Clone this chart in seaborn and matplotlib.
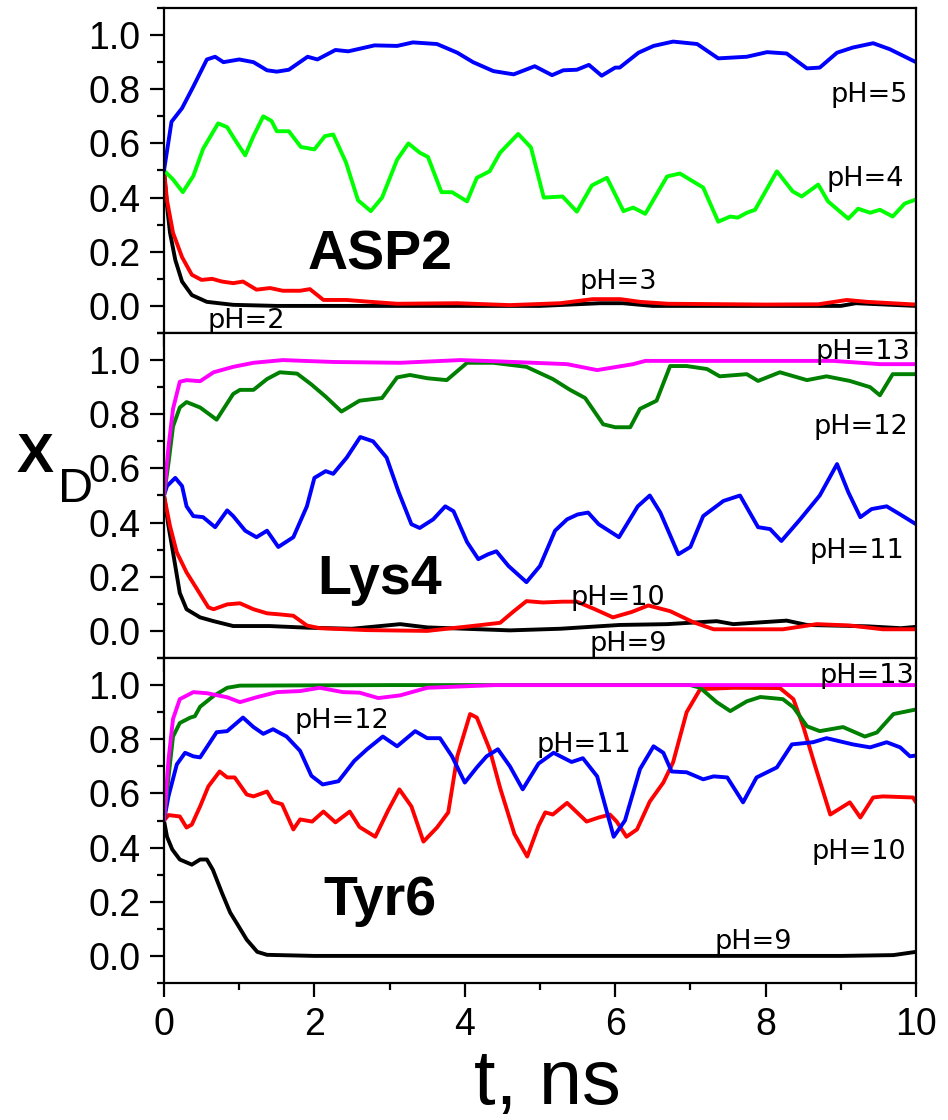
import matplotlib
matplotlib.use("Agg")
import matplotlib.pyplot as plt
import seaborn as sns
from matplotlib.ticker import MultipleLocator, FormatStrFormatter

# ---------------- data ----------------
# Panel 1: ASP2
asp_ph5_t = [0, 0.1, 0.24, 0.39, 0.57, 0.68, 0.79, 1.0, 1.19, 1.37, 1.5, 1.66, 1.91, 2.04, 2.28, 2.45, 2.8, 3.1, 3.31, 3.63, 3.9, 4.11, 4.38, 4.65, 4.93, 5.16, 5.31, 5.49, 5.65, 5.82, 6.0, 6.06, 6.31, 6.51, 6.77, 7.09, 7.37, 7.75, 8.02, 8.28, 8.55, 8.72, 8.95, 9.16, 9.43, 9.65, 10.0]
asp_ph5_y = [0.50, 0.68, 0.73, 0.81, 0.91, 0.92, 0.90, 0.91, 0.90, 0.87, 0.865, 0.872, 0.92, 0.91, 0.945, 0.94, 0.962, 0.96, 0.973, 0.967, 0.935, 0.90, 0.867, 0.855, 0.885, 0.852, 0.87, 0.872, 0.89, 0.85, 0.88, 0.88, 0.935, 0.96, 0.976, 0.967, 0.914, 0.92, 0.937, 0.932, 0.877, 0.88, 0.935, 0.954, 0.97, 0.948, 0.90]

asp_ph4_t = [0, 0.12, 0.25, 0.39, 0.52, 0.72, 0.84, 0.94, 1.08, 1.19, 1.32, 1.43, 1.5, 1.66, 1.82, 2.0, 2.14, 2.25, 2.42, 2.58, 2.75, 2.9, 3.1, 3.25, 3.4, 3.51, 3.69, 3.83, 4.03, 4.16, 4.33, 4.47, 4.71, 4.88, 5.05, 5.3, 5.49, 5.69, 5.89, 6.11, 6.24, 6.4, 6.69, 6.86, 7.17, 7.37, 7.53, 7.63, 7.75, 7.86, 8.15, 8.36, 8.48, 8.7, 8.83, 9.1, 9.23, 9.39, 9.52, 9.69, 9.85, 10.0]
asp_ph4_y = [0.50, 0.467, 0.42, 0.48, 0.58, 0.674, 0.66, 0.615, 0.556, 0.627, 0.70, 0.683, 0.645, 0.645, 0.587, 0.578, 0.627, 0.633, 0.53, 0.39, 0.35, 0.40, 0.54, 0.60, 0.566, 0.55, 0.42, 0.42, 0.386, 0.473, 0.497, 0.566, 0.635, 0.585, 0.40, 0.404, 0.348, 0.445, 0.473, 0.35, 0.363, 0.34, 0.478, 0.489, 0.437, 0.311, 0.33, 0.326, 0.344, 0.355, 0.497, 0.423, 0.404, 0.448, 0.386, 0.322, 0.359, 0.344, 0.355, 0.33, 0.378, 0.393]

asp_ph3_t = [0, 0.04, 0.12, 0.24, 0.37, 0.5, 0.64, 0.77, 0.92, 1.05, 1.23, 1.41, 1.58, 1.81, 1.94, 2.12, 2.43, 2.7, 3.1, 3.9, 4.6, 5.27, 5.7, 6.07, 6.33, 6.7, 8.0, 8.7, 9.08, 9.35, 10.0]
asp_ph3_y = [0.5, 0.39, 0.27, 0.18, 0.115, 0.096, 0.10, 0.09, 0.084, 0.09, 0.06, 0.066, 0.056, 0.056, 0.062, 0.022, 0.022, 0.016, 0.008, 0.01, 0.003, 0.01, 0.025, 0.025, 0.015, 0.008, 0.005, 0.006, 0.022, 0.015, 0.005]

asp_ph2_t = [0, 0.04, 0.08, 0.15, 0.24, 0.37, 0.57, 0.92, 1.5, 5.0, 5.8, 6.1, 6.5, 9.0, 9.2, 10.0]
asp_ph2_y = [0.5, 0.37, 0.27, 0.17, 0.09, 0.04, 0.015, 0.004, 0.0, 0.0, 0.01, 0.01, 0.0, 0.0, 0.01, 0.0]

# Panel 2: Lys4
lys_ph13_t = [0, 0.06, 0.12, 0.21, 0.3, 0.48, 0.66, 0.92, 1.19, 1.58, 2.25, 3.14, 3.94, 4.47, 4.91, 5.36, 5.76, 6.24, 6.4, 8.0, 8.9, 9.52, 10.0]
lys_ph13_y = [0.5, 0.68, 0.82, 0.92, 0.926, 0.922, 0.955, 0.975, 0.99, 1.0, 0.993, 0.99, 1.0, 0.995, 0.99, 0.985, 0.963, 0.985, 0.997, 0.997, 0.997, 0.985, 0.985]

lys_ph12_t = [0, 0.06, 0.12, 0.21, 0.3, 0.48, 0.7, 0.92, 1.01, 1.19, 1.37, 1.54, 1.77, 1.96, 2.15, 2.36, 2.6, 2.9, 3.1, 3.27, 3.5, 3.76, 4.03, 4.38, 4.82, 5.17, 5.4, 5.6, 5.84, 6.0, 6.2, 6.33, 6.55, 6.73, 6.95, 7.22, 7.39, 7.75, 7.9, 8.19, 8.55, 8.81, 9.12, 9.39, 9.52, 9.69, 10.0]
lys_ph12_y = [0.5, 0.62, 0.755, 0.825, 0.845, 0.825, 0.78, 0.875, 0.89, 0.89, 0.93, 0.955, 0.95, 0.91, 0.865, 0.81, 0.85, 0.86, 0.936, 0.945, 0.933, 0.926, 0.99, 0.99, 0.975, 0.93, 0.89, 0.86, 0.763, 0.752, 0.752, 0.82, 0.85, 0.978, 0.978, 0.967, 0.94, 0.948, 0.923, 0.955, 0.926, 0.94, 0.923, 0.90, 0.87, 0.948, 0.948]

lys_ph11_t = [0, 0.04, 0.15, 0.24, 0.3, 0.39, 0.52, 0.68, 0.84, 0.92, 1.08, 1.23, 1.37, 1.52, 1.72, 1.9, 2.0, 2.15, 2.25, 2.43, 2.61, 2.78, 2.96, 3.12, 3.29, 3.4, 3.58, 3.74, 3.85, 4.03, 4.18, 4.31, 4.42, 4.58, 4.82, 5.0, 5.2, 5.36, 5.5, 5.64, 5.78, 6.05, 6.3, 6.46, 6.6, 6.84, 7.0, 7.17, 7.44, 7.66, 7.9, 8.06, 8.21, 8.46, 8.72, 8.95, 9.1, 9.26, 9.41, 9.61, 9.79, 10.0]
lys_ph11_y = [0.5, 0.535, 0.565, 0.535, 0.46, 0.424, 0.42, 0.383, 0.445, 0.424, 0.37, 0.346, 0.37, 0.31, 0.346, 0.46, 0.565, 0.59, 0.58, 0.64, 0.716, 0.70, 0.64, 0.513, 0.394, 0.38, 0.412, 0.46, 0.442, 0.328, 0.265, 0.283, 0.294, 0.24, 0.18, 0.24, 0.37, 0.412, 0.43, 0.437, 0.394, 0.346, 0.46, 0.5, 0.437, 0.283, 0.31, 0.424, 0.48, 0.5, 0.383, 0.376, 0.332, 0.412, 0.5, 0.616, 0.512, 0.42, 0.45, 0.46, 0.43, 0.394]

lys_ph10_t = [0, 0.08, 0.17, 0.3, 0.44, 0.59, 0.66, 0.84, 1.01, 1.19, 1.37, 1.54, 1.72, 1.9, 2.07, 2.7, 3.5, 4.16, 4.47, 4.64, 4.82, 5.04, 5.3, 5.49, 5.73, 5.97, 6.22, 6.44, 6.73, 7.04, 7.31, 8.23, 8.68, 9.12, 9.56, 10.0]
lys_ph10_y = [0.5, 0.387, 0.29, 0.216, 0.154, 0.087, 0.08, 0.098, 0.102, 0.08, 0.065, 0.061, 0.056, 0.02, 0.01, 0.003, 0.0, 0.02, 0.03, 0.07, 0.11, 0.105, 0.108, 0.108, 0.08, 0.05, 0.07, 0.094, 0.073, 0.032, 0.006, 0.006, 0.025, 0.02, 0.006, 0.006]

lys_ph9_t = [0, 0.06, 0.12, 0.21, 0.3, 0.48, 0.66, 0.92, 1.4, 1.9, 2.5, 3.14, 3.5, 4.6, 5.27, 6.06, 6.69, 7.35, 7.57, 8.28, 8.55, 9.35, 9.8, 10.0]
lys_ph9_y = [0.5, 0.387, 0.29, 0.14, 0.08, 0.05, 0.036, 0.018, 0.018, 0.012, 0.008, 0.025, 0.013, 0.002, 0.008, 0.022, 0.025, 0.036, 0.025, 0.038, 0.022, 0.017, 0.01, 0.015]

# Panel 3: Tyr6
tyr_ph13_t = [0, 0.06, 0.12, 0.21, 0.39, 0.57, 0.84, 1.01, 1.23, 1.5, 1.81, 2.07, 2.38, 2.6, 2.85, 3.14, 3.5, 4.4, 10.0]
tyr_ph13_y = [0.5, 0.725, 0.875, 0.948, 0.974, 0.97, 0.955, 0.937, 0.955, 0.974, 0.978, 0.99, 0.974, 0.972, 0.952, 0.962, 0.99, 1.0, 1.0]

tyr_ph12_t = [0, 0.06, 0.12, 0.21, 0.35, 0.41, 0.48, 0.66, 0.84, 1.01, 3.0, 5.0, 7.0, 7.13, 7.35, 7.53, 7.75, 7.93, 8.23, 8.37, 8.55, 8.72, 9.03, 9.32, 9.48, 9.7, 10.0]
tyr_ph12_y = [0.5, 0.66, 0.81, 0.86, 0.88, 0.885, 0.92, 0.96, 0.99, 0.998, 1.0, 1.0, 1.0, 0.99, 0.937, 0.904, 0.94, 0.956, 0.948, 0.918, 0.848, 0.83, 0.845, 0.81, 0.825, 0.893, 0.91]

tyr_ph11_t = [0, 0.06, 0.17, 0.28, 0.39, 0.48, 0.7, 0.84, 1.05, 1.19, 1.32, 1.45, 1.63, 1.81, 1.96, 2.11, 2.32, 2.53, 2.7, 2.91, 3.1, 3.34, 3.5, 3.67, 3.83, 4.0, 4.16, 4.29, 4.44, 4.6, 4.77, 4.98, 5.18, 5.42, 5.57, 5.76, 5.98, 6.13, 6.33, 6.51, 6.64, 6.75, 6.95, 7.17, 7.31, 7.49, 7.7, 7.88, 8.15, 8.35, 8.63, 8.81, 9.16, 9.39, 9.61, 9.79, 9.92, 10.0]
tyr_ph11_y = [0.5, 0.59, 0.707, 0.75, 0.737, 0.733, 0.826, 0.83, 0.88, 0.845, 0.82, 0.837, 0.81, 0.757, 0.665, 0.633, 0.645, 0.72, 0.763, 0.81, 0.774, 0.83, 0.804, 0.804, 0.737, 0.64, 0.696, 0.737, 0.763, 0.70, 0.615, 0.71, 0.75, 0.716, 0.73, 0.663, 0.44, 0.5, 0.69, 0.774, 0.75, 0.681, 0.678, 0.652, 0.663, 0.659, 0.567, 0.659, 0.696, 0.781, 0.789, 0.804, 0.781, 0.77, 0.789, 0.77, 0.737, 0.74]

tyr_ph10_t = [0, 0.06, 0.21, 0.3, 0.37, 0.48, 0.59, 0.74, 0.84, 0.94, 1.1, 1.19, 1.37, 1.45, 1.57, 1.72, 1.81, 1.97, 2.12, 2.28, 2.47, 2.6, 2.81, 2.98, 3.13, 3.29, 3.45, 3.63, 3.78, 3.9, 4.07, 4.16, 4.33, 4.47, 4.66, 4.83, 4.98, 5.07, 5.17, 5.36, 5.62, 5.78, 5.93, 6.02, 6.15, 6.29, 6.46, 6.64, 6.77, 6.95, 7.13, 7.57, 8.19, 8.37, 8.5, 8.66, 8.86, 9.12, 9.26, 9.43, 9.56, 9.96, 10.0]
tyr_ph10_y = [0.5, 0.52, 0.515, 0.474, 0.485, 0.552, 0.626, 0.681, 0.659, 0.659, 0.596, 0.589, 0.607, 0.57, 0.56, 0.467, 0.504, 0.496, 0.533, 0.493, 0.533, 0.476, 0.44, 0.537, 0.615, 0.552, 0.422, 0.474, 0.53, 0.737, 0.893, 0.88, 0.763, 0.62, 0.45, 0.367, 0.48, 0.53, 0.522, 0.565, 0.496, 0.511, 0.522, 0.496, 0.44, 0.467, 0.57, 0.64, 0.715, 0.9, 0.985, 0.99, 0.989, 0.948, 0.848, 0.7, 0.522, 0.567, 0.511, 0.585, 0.589, 0.585, 0.567]

tyr_ph9_t = [0, 0.04, 0.11, 0.21, 0.37, 0.48, 0.57, 0.65, 0.77, 0.88, 0.98, 1.1, 1.24, 1.37, 2.0, 9.0, 9.7, 10.0]
tyr_ph9_y = [0.5, 0.44, 0.393, 0.356, 0.337, 0.356, 0.356, 0.318, 0.233, 0.16, 0.115, 0.06, 0.015, 0.004, 0.0, 0.0, 0.003, 0.015]

panel_names = ["ASP2", "Lys4", "Tyr6"]
y_ticks = [0.0, 0.2, 0.4, 0.6, 0.8, 1.0]
x_ticks = [0, 2, 4, 6, 8, 10]

BLUE, LIME, RED, BLACK, MAG, DGREEN = "#0000ff", "#00ff00", "#ff0000", "#000000", "#ff00ff", "#008000"

panels = [
    [(asp_ph2_t, asp_ph2_y, BLACK), (asp_ph3_t, asp_ph3_y, RED),
     (asp_ph4_t, asp_ph4_y, LIME), (asp_ph5_t, asp_ph5_y, BLUE)],
    [(lys_ph9_t, lys_ph9_y, BLACK), (lys_ph10_t, lys_ph10_y, RED),
     (lys_ph11_t, lys_ph11_y, BLUE), (lys_ph12_t, lys_ph12_y, DGREEN),
     (lys_ph13_t, lys_ph13_y, MAG)],
    [(tyr_ph9_t, tyr_ph9_y, BLACK), (tyr_ph10_t, tyr_ph10_y, RED),
     (tyr_ph11_t, tyr_ph11_y, BLUE), (tyr_ph12_t, tyr_ph12_y, DGREEN),
     (tyr_ph13_t, tyr_ph13_y, MAG)],
]

# label text, x, y (data coords)
ph_labels = [
    [("pH=5", 9.38, 0.78), ("pH=4", 9.32, 0.467), ("pH=3", 6.04, 0.09), ("pH=2", 1.10, -0.055)],
    [("pH=13", 9.30, 1.03), ("pH=12", 9.27, 0.752), ("pH=11", 9.21, 0.294),
     ("pH=10", 6.04, 0.12), ("pH=9", 6.18, -0.05)],
    [("pH=13", 9.35, 1.033), ("pH=12", 2.37, 0.867), ("pH=11", 5.59, 0.778),
     ("pH=10", 9.24, 0.385), ("pH=9", 7.83, 0.052)],
]
name_pos = [(2.87, 0.133), (2.87, 0.136), (2.87, 0.152)]

# ---------------- plotting ----------------
sns.set_theme(style="ticks")
plt.rcParams['font.family'] = ['Liberation Sans', 'DejaVu Sans']
plt.rcParams['text.color'] = 'black'
plt.rcParams['axes.labelcolor'] = 'black'
plt.rcParams['xtick.color'] = 'black'
plt.rcParams['ytick.color'] = 'black'

fig = plt.figure(figsize=(9.48, 11.2), dpi=100)
W, H = 948, 1120
left, width, height = 164 / W, 752 / W, 325 / H
bottoms = [1 - 333 / H, 1 - 658 / H, 1 - 983 / H]
axes = [fig.add_axes([left, b, width, height]) for b in bottoms]

for i, ax in enumerate(axes):
    for t, y, c in panels[i]:
        sns.lineplot(x=t, y=y, ax=ax, color=c, lw=2.8, estimator=None, sort=False,
                     solid_joinstyle='round', solid_capstyle='round')
    ax.set_xlim(0, 10)
    ax.set_ylim(-0.1, 1.1)
    ax.set_xticks(x_ticks)
    ax.xaxis.set_minor_locator(MultipleLocator(1))
    ax.set_yticks(y_ticks)
    ax.yaxis.set_minor_locator(MultipleLocator(0.1))
    ax.yaxis.set_major_formatter(FormatStrFormatter('%.1f'))
    ax.xaxis.set_major_formatter(FormatStrFormatter('%d'))
    ax.tick_params(axis='both', which='major', direction='out', length=10,
                   width=1.6, labelsize=27, pad=7, colors='black')
    ax.tick_params(axis='both', which='minor', direction='out', length=5, width=1.6)
    ax.tick_params(top=False, right=False)
    if i < 2:
        ax.tick_params(labelbottom=False)
    for s in ax.spines.values():
        s.set_linewidth(1.6)
        s.set_color('black')
    ax.set_xlabel("")
    ax.set_ylabel("")
    for txt, x, y in ph_labels[i]:
        ax.text(x, y, txt, ha='center', va='center', fontsize=19.5,
                family=['DejaVu Sans'], color='black')
    nx, ny = name_pos[i]
    ax.text(nx, ny, panel_names[i], ha='center', va='baseline', fontsize=40,
            fontweight='bold', color='black')

# axis titles
fig.text(547 / W, 16 / H, "t, ns", ha='center', va='baseline', fontsize=56, color='black')
fig.text(17 / W, 1 - 472 / H, "X", ha='left', va='baseline', fontsize=40,
         fontweight='bold', color='black')
fig.text(58 / W, 1 - 502 / H, "D", ha='left', va='baseline', fontsize=35, color='black')

fig.savefig("out.png", dpi=100)
